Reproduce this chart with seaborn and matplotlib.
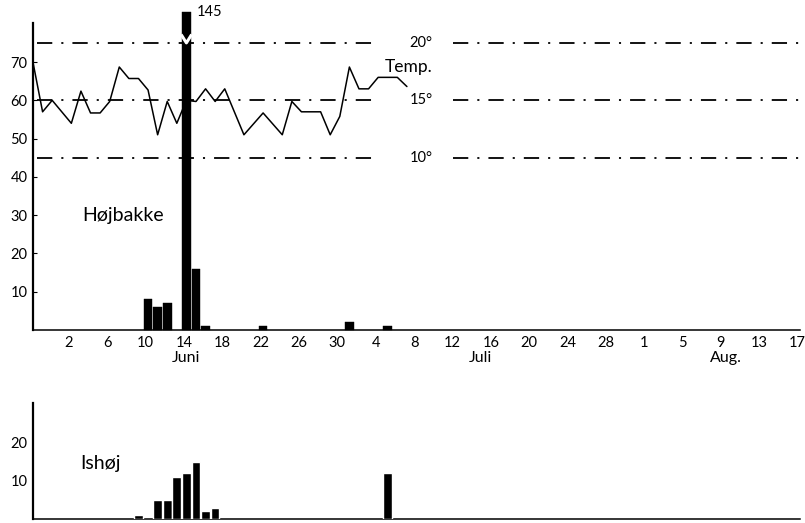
import matplotlib
matplotlib.use("Agg")
import matplotlib.pyplot as plt
import matplotlib.transforms as mtransforms
import seaborn as sns
import pandas as pd
import numpy as np

# ---- data (day number: 1 = 1 June, 31 = 1 July, 62 = 1 Aug) ----
hoj_days = [10, 11, 12, 14, 15, 16, 22, 31, 35]
hoj_counts = [8, 6, 7, 145, 16, 1, 1, 2, 1]
hoj_shown_max = 83          # height to which the 145 bar is drawn (broken bar)

ish_days = [9, 11, 12, 13, 14, 15, 16, 17, 35]
ish_counts = [1, 5, 5, 11, 12, 15, 2, 3, 12]

temp_days = [-2, -1, 0, 2, 3, 4, 5, 6, 7, 8, 9, 10, 11, 12, 13, 14, 15, 16, 17, 18,
             20, 22, 24, 25, 26, 28, 29, 30, 31, 32, 33, 34, 36, 37]
temp_vals = [18.3, 14.0, 15.0, 13.0, 15.8, 13.9, 13.9, 14.9, 17.9, 16.9, 16.9, 15.9,
             12.0, 14.9, 13.0, 15.0, 14.9, 16.0, 14.9, 16.0, 12.0, 13.9, 12.0, 14.9,
             14.0, 14.0, 12.0, 13.6, 17.9, 16.0, 16.0, 17.0, 17.0, 16.2]
temp_ref = [10, 15, 20]
temp_ref_labels = ["10°", "15°", "20°"]

tick_days = [2, 6, 10, 14, 18, 22, 26, 30, 34, 38, 42, 46, 50, 54, 58, 62, 66, 70, 74, 78]
tick_labels = ["2", "6", "10", "14", "18", "22", "26", "30", "4", "8", "12", "16",
               "20", "24", "28", "1", "5", "9", "13", "17"]
month_labels = ["Juni", "Juli", "Aug."]
month_pos = [14, 44.7, 70.3]

top_yticks = [10, 20, 30, 40, 50, 60, 70]
bot_yticks = [10, 20]

# ---- style ----
sns.set_theme(style="white")
plt.rcParams["font.family"] = ["Lato", "DejaVu Sans"]
plt.rcParams["lines.scale_dashes"] = False
FS = 10.5
FS_MONTH = 11.5
FS_NAME = 14
TICK_OFF = -0.25   # ticks sit slightly left of the day marks

fig = plt.figure(figsize=(8.05, 5.23), dpi=100)
W, H = 805, 523
ax1 = fig.add_axes([33 / W, 1 - 330 / H, 767 / W, 307 / H])
ax2 = fig.add_axes([33 / W, 1 - 519 / H, 767 / W, 116 / H])

XLIM = (-2, 78)
TOP_YLIM = (0, 80.2)
BOT_YLIM = (0, 30.5)

# ---- top panel: Højbakke ----
hoj_plot = [min(c, hoj_shown_max) for c in hoj_counts]
df_h = pd.DataFrame({"day": hoj_days, "n": hoj_plot})
sns.barplot(data=df_h, x="day", y="n", native_scale=True, width=0.9, color="black",
            errorbar=None, ax=ax1, zorder=3, saturation=1)
for p in ax1.patches:
    p.set_clip_on(False)
    p.set_edgecolor("black")
    p.set_linewidth(0.3)

# temperature axis
axt = ax1.twinx()
axt.set_ylim((TOP_YLIM[0] - 15) / 3, (TOP_YLIM[1] - 15) / 3)
axt.set_xlim(XLIM)
axt.axis("off")
ax1.set_zorder(2)
ax1.patch.set_visible(False)
axt.set_zorder(1)

df_t = pd.DataFrame({"day": temp_days, "t": temp_vals})
sns.lineplot(data=df_t, x="day", y="t", color="black", lw=1.1, ax=axt, zorder=2)
dd = (0, (11, 6.5, 1.5, 6.5))
for tr, lab in zip(temp_ref, temp_ref_labels):
    axt.hlines(tr, -1.6, 34.05, colors="black", lw=1.3, linestyles=[dd])
    axt.hlines(tr, 41.85, 78, colors="black", lw=1.3, linestyles=[dd])
    axt.text(38.5, tr, lab, ha="center", va="center", fontsize=FS, color="black")
axt.text(34.7, 17.9, "Temp.", ha="left", va="center", fontsize=12.5, color="black")

# broken bar chevron + value label
imax = int(np.argmax(hoj_counts))
bx = hoj_days[imax]
ax1.plot([bx - 0.55, bx, bx + 0.55], [77.2, 75.0, 77.2], color="white", lw=2.2,
         zorder=5, clip_on=False, solid_capstyle="butt")
ax1.text(bx + 1.1, hoj_shown_max, str(hoj_counts[imax]), ha="left", va="center",
         fontsize=FS, color="black", clip_on=False)

ax1.text(3.1, 30, "Højbakke", ha="left", va="center", fontsize=FS_NAME, color="black")

# ---- bottom panel: Ishøj ----
df_i = pd.DataFrame({"day": ish_days, "n": ish_counts})
sns.barplot(data=df_i, x="day", y="n", native_scale=True, width=0.9, color="black",
            errorbar=None, ax=ax2, zorder=3, saturation=1)
ax2.text(2.9, 14.7, "Ishøj", ha="left", va="center", fontsize=FS_NAME, color="black")

# ---- axes styling ----
for ax, ylim, yt in [(ax1, TOP_YLIM, top_yticks), (ax2, BOT_YLIM, bot_yticks)]:
    ax.set_xlim(XLIM)
    ax.set_ylim(ylim)
    ax.set_xlabel("")
    ax.set_ylabel("")
    ax.set_yticks(yt)
    ax.set_yticklabels([str(v) for v in yt], fontsize=FS)
    ax.set_xticks([d + TICK_OFF for d in tick_days])
    for s in ["top", "right"]:
        ax.spines[s].set_visible(False)
    ax.spines["left"].set_linewidth(1.6)
    ax.spines["bottom"].set_linewidth(1.1)
    ax.spines["left"].set_color("black")
    ax.spines["bottom"].set_color("black")
    ax.tick_params(axis="both", direction="in", length=3, width=0.8, color="black",
                   labelcolor="black", pad=4)
    ax.grid(False)

ax1.set_xticklabels(tick_labels, fontsize=FS)
ax2.set_xticklabels([])
ax1.tick_params(axis="x", pad=4)

trans = mtransforms.blended_transform_factory(ax1.transData, ax1.transAxes)
for m, pos in zip(month_labels, month_pos):
    ax1.text(pos, -0.092, m, transform=trans, ha="center", va="center",
             fontsize=FS_MONTH, color="black")

fig.savefig("out.png", dpi=100)
